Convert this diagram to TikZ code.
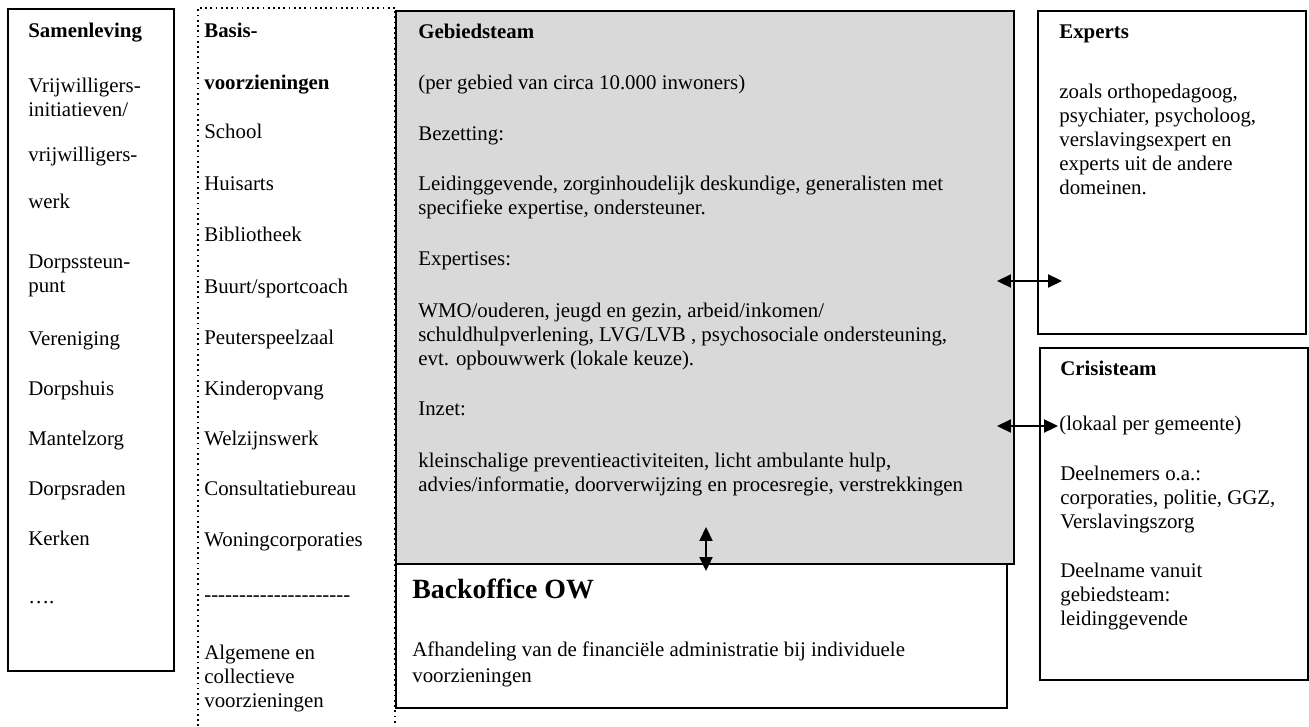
\documentclass[tikz,border=0pt]{standalone}
\usepackage{fontspec}
\setmainfont{Liberation Serif}
\usetikzlibrary{arrows.meta}
\definecolor{teamgray}{RGB}{217,217,217}
\newcommand{\pxu}{0.575pt}

\begin{document}
\begin{tikzpicture}[x=0.575pt,y=-0.575pt,
  box/.style={draw,line width=1pt,anchor=north west,inner sep=0pt},
  txt/.style={anchor=base west,inner sep=0pt,align=left,font=\fontsize{12}{13.8}\selectfont},
  head/.style={txt,font=\fontsize{12}{13.8}\selectfont\bfseries},
  link/.style={line width=1pt,{Triangle[length=8pt,width=7.5pt]}-{Triangle[length=8pt,width=7.5pt]}}]
  \useasboundingbox (0,0) rectangle (1309,726);
  % basis column, dotted and open at the bottom
  \draw[dotted,line width=1pt] (198,726) -- (198,8) -- (395,8) -- (395,726);
  % boxes
  \node[box,minimum width=166*\pxu,minimum height=662*\pxu] (samen) at (7,8) {};
  \node[box,minimum width=611*\pxu,minimum height=144*\pxu] (back) at (395,563) {};
  \node[box,fill=teamgray,minimum width=618*\pxu,minimum height=553*\pxu] (gebied) at (395,10) {};
  \node[box,minimum width=268*\pxu,minimum height=323*\pxu] (experts) at (1037,10) {};
  \node[box,minimum width=268*\pxu,minimum height=332*\pxu] (crisis) at (1039,347) {};
  % samenleving (multi-line texts sit on their last baseline)
  \node[head] (sam-h) at (28,37) {Samenleving};
  \node[txt] (sam-1) at (28,116) {Vrijwilligers-\\initiatieven/};
  \node[txt] (sam-2) at (28,161) {vrijwilligers-};
  \node[txt] (sam-3) at (28,208) {werk};
  \node[txt] (sam-4) at (28,292) {Dorpssteun-\\punt};
  \node[txt] (sam-5) at (28,345) {Vereniging};
  \node[txt] (sam-6) at (28,395) {Dorpshuis};
  \node[txt] (sam-7) at (28,445) {Mantelzorg};
  \node[txt] (sam-8) at (28,495) {Dorpsraden};
  \node[txt] (sam-9) at (28,545) {Kerken};
  \node[txt] (sam-10) at (28,603) {….};
  % basisvoorzieningen
  \node[head] (bas-h1) at (204,37) {Basis-};
  \node[head] (bas-h2) at (204,89) {voorzieningen};
  \node[txt] (bas-1) at (204,138) {School};
  \node[txt] (bas-2) at (204,190) {Huisarts};
  \node[txt] (bas-3) at (204,241) {Bibliotheek};
  \node[txt] (bas-4) at (204,293) {Buurt/sportcoach};
  \node[txt] (bas-5) at (204,344) {Peuterspeelzaal};
  \node[txt] (bas-6) at (204,395) {Kinderopvang};
  \node[txt] (bas-7) at (204,445) {Welzijnswerk};
  \node[txt] (bas-8) at (204,495) {Consultatiebureau};
  \node[txt] (bas-9) at (204,546) {Woningcorporaties};
  \node[txt] (bas-10) at (204,601) {{-}{-}{-}{-}{-}{-}{-}{-}{-}{-}{-}{-}{-}{-}{-}{-}{-}{-}{-}{-}{-}};
  \node[txt] (bas-11) at (204,707) {Algemene en\\collectieve\\voorzieningen};
  % gebiedsteam
  \node[head] (geb-h) at (418,38) {Gebiedsteam};
  \node[txt] (geb-1) at (418,89) {(per gebied van circa 10.000 inwoners)};
  \node[txt] (geb-2) at (418,140) {Bezetting:};
  \node[txt] (geb-3) at (418,214) {Leidinggevende, zorginhoudelijk deskundige, generalisten met\\specifieke expertise, ondersteuner.};
  \node[txt] (geb-4) at (418,265) {Expertises:};
  \node[txt] (geb-5) at (418,365) {WMO/ouderen, jeugd en gezin, arbeid/inkomen/\\schuldhulpverlening, LVG/LVB , psychosociale ondersteuning,\\evt. opbouwwerk (lokale keuze).};
  \node[txt] (geb-6) at (418,415) {Inzet:};
  \node[txt] (geb-7) at (418,491) {kleinschalige preventieactiviteiten, licht ambulante hulp,\\advies/informatie, doorverwijzing en procesregie, verstrekkingen};
  % backoffice
  \node[txt,font=\fontsize{16}{19}\selectfont\bfseries] (back-h) at (412,598) {Backoffice OW};
  \node[txt,font=\fontsize{12}{14.4}\selectfont] (back-1) at (412,682) {Afhandeling van de financiële administratie bij individuele\\voorzieningen};
  % experts
  \node[head] (exp-h) at (1059,38) {Experts};
  \node[txt] (exp-1) at (1059,194) {zoals orthopedagoog,\\psychiater, psycholoog,\\verslavingsexpert en\\experts uit de andere\\domeinen.};
  % crisisteam
  \node[head] (cri-h) at (1060,375) {Crisisteam};
  \node[txt] (cri-1) at (1059,430) {(lokaal per gemeente)};
  \node[txt] (cri-2) at (1060,528) {Deelnemers o.a.:\\corporaties, politie, GGZ,\\Verslavingszorg};
  \node[txt] (cri-3) at (1060,625) {Deelname vanuit\\gebiedsteam:\\leidinggevende};
  % arrows
  \coordinate (expA) at (997,281);
  \coordinate (expB) at (1062,281);
  \coordinate (criA) at (997,426);
  \coordinate (criB) at (1058,426);
  \coordinate (backA) at (706,527);
  \coordinate (backB) at (706,571);
  \draw[link] (expA) -- (expB);
  \draw[link] (criA) -- (criB);
  \draw[link] (backA) -- (backB);
\end{tikzpicture}
\end{document}
